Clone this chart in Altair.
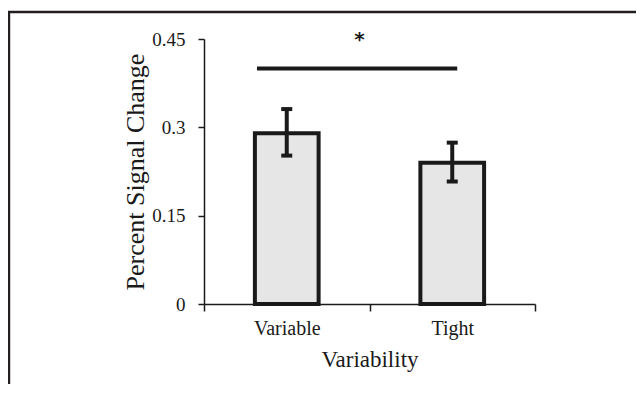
import altair as alt
import pandas as pd

# ---- data ----
categories = ["Variable", "Tight"]
means = [0.29, 0.24]
err_low = [0.252, 0.208]
err_high = [0.331, 0.274]
y_ticks = [0, 0.15, 0.3, 0.45]

# significance annotation (x in category units: 0 = left edge, 2 = right edge)
sig_start = [0.32]
sig_end = [1.53]
sig_level = [0.40]
star_x = [0.94]
star_level = [0.438]
star_label = ["*"]

INK = "#1a1a1a"
FONT = "Liberation Serif"

bars_df = pd.DataFrame({"Variability": categories, "mean": means,
                        "lo": err_low, "hi": err_high})
sig_df = pd.DataFrame({"x0": sig_start, "x1": sig_end, "y": sig_level})
star_df = pd.DataFrame({"x": star_x, "y": star_level, "label": star_label})

yscale = alt.Scale(domain=[0, 0.45], nice=False, zero=True)
yaxis = alt.Axis(values=y_ticks, format=".2~f", title="Percent Signal Change",
                 grid=False, tickSize=6, tickWidth=1.5, tickColor=INK,
                 domainColor=INK, domainWidth=1.5, labelFont=FONT,
                 labelFontSize=19, labelColor=INK, labelPadding=13,
                 titleFont=FONT, titleFontSize=26, titleFontWeight="normal",
                 titleColor=INK, titlePadding=3)

xenc = alt.X("Variability:N", sort=categories,
             scale=alt.Scale(paddingInner=0, paddingOuter=0),
             axis=alt.Axis(title="Variability", tickBand="extent", labelAngle=0,
                           tickSize=7, tickWidth=1.5, tickColor=INK,
                           domainColor=INK, domainWidth=1.5, labelFont=FONT,
                           labelFontSize=20, labelColor=INK, labelPadding=7,
                           titleFont=FONT, titleFontSize=23,
                           titleFontWeight="normal", titleColor=INK,
                           titlePadding=10, grid=False))

base = alt.Chart(bars_df)

bars = base.mark_bar(fill="#e6e6e6", stroke=INK, strokeWidth=4,
                     width=alt.RelativeBandSize(0.385)).encode(
    x=xenc,
    y=alt.Y("mean:Q", scale=yscale, axis=yaxis),
)

err_rule = base.mark_rule(color=INK, strokeWidth=4).encode(
    x=xenc,
    y=alt.Y("lo:Q", scale=yscale, axis=yaxis),
    y2="hi:Q",
)
cap_lo = base.mark_tick(color=INK, size=11, thickness=4, opacity=1).encode(
    x=xenc, y=alt.Y("lo:Q", scale=yscale, axis=yaxis))
cap_hi = base.mark_tick(color=INK, size=11, thickness=4, opacity=1).encode(
    x=xenc, y=alt.Y("hi:Q", scale=yscale, axis=yaxis))

main = alt.layer(bars, err_rule, cap_lo, cap_hi)

xq = alt.Scale(domain=[0, 2], nice=False, zero=False)
sig_line = alt.Chart(sig_df).mark_rule(color=INK, strokeWidth=4).encode(
    x=alt.X("x0:Q", scale=xq, axis=None),
    x2="x1:Q",
    y=alt.Y("y:Q", scale=yscale, axis=yaxis),
)
star = alt.Chart(star_df).mark_text(font="DejaVu Sans", fontSize=20,
                                    fontWeight="bold", color=INK,
                                    baseline="alphabetic",
                                    align="center").encode(
    x=alt.X("x:Q", scale=xq, axis=None),
    y=alt.Y("y:Q", scale=yscale, axis=yaxis),
    text="label:N",
)

# figure frame (top and left edges of the surrounding box)
frame_top = alt.Chart(sig_df).mark_rule(color="#231f20", strokeWidth=2.4).encode(
    x=alt.value(-196), x2=alt.value(432), y=alt.value(-27))
frame_left = alt.Chart(sig_df).mark_rule(color="#231f20", strokeWidth=2.4).encode(
    x=alt.value(-195), y=alt.value(-28), y2=alt.value(345))

annot = alt.layer(sig_line, star)

chart = alt.layer(main, annot, frame_top, frame_left).resolve_scale(
    x="independent").resolve_axis(x="independent").properties(
    width=331, height=265,
    background="white",
    autosize=alt.AutoSizeParams(type="none"),
    padding={"left": 196, "top": 31, "right": 101, "bottom": 80},
).configure_view(strokeWidth=0, stroke="transparent")

chart.save("out.html", embed_options={"renderer": "svg", "actions": False})
